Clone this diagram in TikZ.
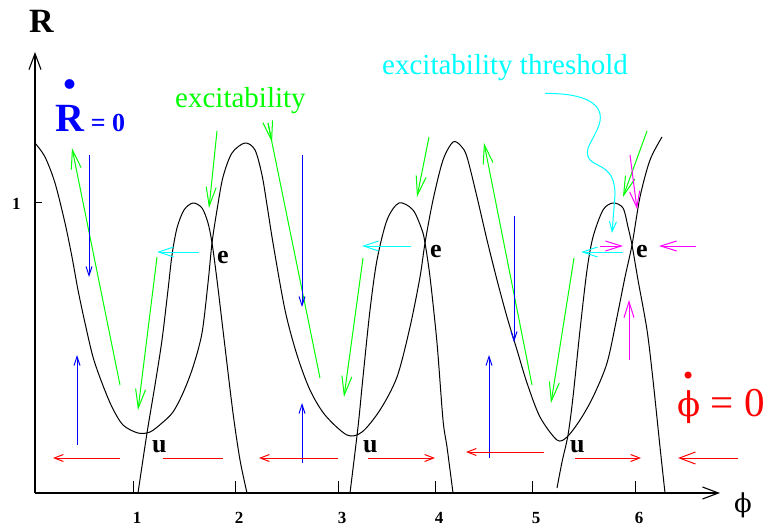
\documentclass[tikz,border=0pt]{standalone}
\usepackage{fontspec}
\setmainfont{Liberation Serif}
\newfontfamily\griego{DejaVu Serif}
\usetikzlibrary{arrows.meta}
\definecolor{verde}{RGB}{0,255,0}
\definecolor{cian}{RGB}{0,255,255}
\definecolor{magen}{RGB}{255,0,255}
\definecolor{azul}{RGB}{0,0,255}
\definecolor{rojo}{RGB}{255,0,0}

\begin{document}
\begin{tikzpicture}[
    x=1pt, y=-1pt,
    curva/.style={line width=1pt, line join=round},
    eje/.style={line width=1.1pt, -{Straight Barb[length=16pt,width=12pt]}},
    etiq/.style={inner sep=0pt, anchor=base west},
    fazul/.style={azul, line width=1pt, -{Straight Barb[length=9pt,width=6pt]}},
    fverde/.style={verde, line width=1pt, -{Straight Barb[length=19pt,width=10pt]}},
    frojo/.style={rojo, line width=1pt, -{Straight Barb[length=9pt,width=7pt]}},
    fcian/.style={cian, line width=1pt, -{Straight Barb[length=15pt,width=10pt]}},
    fmagenta/.style={magen, line width=1pt, -{Straight Barb[length=16pt,width=10pt]}}
]
\useasboundingbox (0,0) rectangle (770,529);

% ejes
\draw[eje] (35,493) -- (720,493);
\draw[eje] (35,493) -- (35,52);
\draw[line width=1pt] (35,203) -- (42,203);
\node[etiq, font=\fontsize{17}{17}\selectfont\bfseries] (uno) at (12,210) {1};
\foreach \x/\n in {133/1,235/2,338/3,435/4,532/5,635/6}{
    \draw[line width=1pt] (\x,493) -- (\x,481);
    \node[font=\fontsize{17}{17}\selectfont\bfseries] (t\n) at (\x+4,518) {\n};
}
\node[etiq, font=\fontsize{34}{34}\selectfont\bfseries] (ejeR) at (29,33) {R};
\node[font=\fontsize{26}{26}\selectfont\griego] (ejephi) at (743,505) {ϕ};

% nulclinas
\draw[curva] plot[smooth, tension=0.5] coordinates {
    (35,143) (45,157) (55,183) (65,223) (72,257) (78,290) (85,323) (93,357)
    (102,383) (112,407) (123,425) (138,433) (150,432) (162,423) (173,412)
    (183,393) (193,367) (202,333) (208,283) (212,243) (217,210) (223,177)
    (232,153) (245,143) (255,150) (262,175) (267,205) (273,243) (285,310)
    (297,355) (310,390) (325,415) (347,435) (362,432) (380,410) (397,377)
    (410,327) (420,277) (425,243) (433,200) (443,160) (453,142) (461,146)
    (467,157) (477,197) (487,240) (497,280) (507,317) (517,350) (527,383)
    (540,417) (557,440) (567,437) (580,420) (593,397) (607,363) (617,317)
    (625,277) (632,245) (640,197) (650,160) (662,137)};
\draw[curva] plot[smooth, tension=0.5] coordinates {
    (138,493) (147,433) (155,385) (162,340) (168,290) (172,255) (177,228)
    (184,210) (193,203) (202,208) (208,223) (212,243) (217,280) (225,347)
    (233,413) (240,460) (247,493)};
\draw[curva] plot[smooth, tension=0.5] coordinates {
    (350,493) (358,427) (363,377) (370,310) (377,260) (387,220) (399,203)
    (413,210) (422,230) (425,243) (430,277) (437,343) (443,420) (447,447)
    (453,493)};
\draw[curva] plot[smooth, tension=0.5] coordinates {
    (557,488) (562,462) (568,435) (573,397) (580,330) (587,270) (593,237)
    (603,210) (613,203) (623,208) (628,227) (632,245) (638,280) (647,330)
    (653,380) (660,447) (665,493)};

% puntos fijos
\node[etiq, font=\fontsize{26}{26}\selectfont\bfseries] (e1) at (217,263) {e};
\node[etiq, font=\fontsize{26}{26}\selectfont\bfseries] (e2) at (430,258) {e};
\node[etiq, font=\fontsize{26}{26}\selectfont\bfseries] (e3) at (636,258) {e};
\node[etiq, font=\fontsize{26}{26}\selectfont\bfseries] (u1) at (152,452) {u};
\node[etiq, font=\fontsize{26}{26}\selectfont\bfseries] (u2) at (363,452) {u};
\node[etiq, font=\fontsize{26}{26}\selectfont\bfseries] (u3) at (570,452) {u};

% textos
\node[etiq, azul, font=\fontsize{40}{40}\selectfont\bfseries] (Rpunto) at (55,132)
    {\rlap{\hspace{7.5pt}\raisebox{43pt}{\fontsize{60}{60}\selectfont .}}R\,{\fontsize{26}{26}\selectfont = 0}};
\node[etiq, rojo, font=\fontsize{41}{41}\selectfont] (phipunto) at (677,416)
    {\rlap{\hspace{4pt}\raisebox{32pt}{\fontsize{24}{24}\selectfont\griego •}}{\fontsize{34}{34}\selectfont\griego ϕ}\hspace{10pt}=\hspace{11pt}0};
\node[etiq, verde, font=\fontsize{29}{29}\selectfont] (excit) at (175,108) {excitability};
\node[etiq, cian, font=\fontsize{29}{29}\selectfont] (umbral) at (382,75) {excitability threshold};
\coordinate (umbralfin) at (612,233);
\draw[cian, line width=1pt, -{Straight Barb[length=10pt,width=7pt]}]
    ([xshift=40pt,yshift=-12pt]umbral.south) .. controls (585,93) and (606,104) .. (599,125)
    .. controls (594,140) and (582,150) .. (590,160)
    .. controls (598,168) and (615,166) .. (615,195) -- (umbralfin);

% flechas verdes
\draw[fverde] (120,385) -- (72,148);
\draw[fverde] (157,257) -- (138,410);
\draw[fverde] (217,131) -- (209,208);
\draw[verde, line width=1pt] (268,123) -- (320,378);
\draw[fverde] (268,123) -- (272,142);
\draw[fverde] (363,258) -- (344,397);
\draw[fverde] (429,137) -- (417,197);
\draw[fverde] (532,385) -- (484,143);
\draw[fverde] (574,258) -- (551,403);
\draw[fverde] (647,131) -- (623,197);

% flechas azules
\draw[fazul] (89,155) -- (89,277);
\draw[fazul] (77,445) -- (77,355);
\draw[fazul] (302,155) -- (302,307);
\draw[fazul] (302,463) -- (302,403);
\draw[fazul] (514,216) -- (514,342);
\draw[fazul] (489,458) -- (489,355);

% flechas cian y magenta
\draw[fcian] (199,252) -- (157,252);
\draw[fcian] (411,246) -- (362,246);
\draw[fcian] (623,252) -- (581,252);
\draw[fmagenta] (629,360) -- (629,300);
\draw[fmagenta] (630,155) -- (637,209);
\draw[fmagenta] (600,246) -- (623,246);
\draw[fmagenta] (696,246) -- (659,246);

% flechas rojas
\draw[frojo] (120,458) -- (53,458);
\draw[rojo, line width=1pt] (163,458) -- (223,458);
\draw[frojo] (338,458) -- (259,458);
\draw[frojo] (368,458) -- (435,458);
\draw[frojo] (544,452) -- (466,452);
\draw[frojo] (575,458) -- (641,458);
\draw[rojo, line width=1pt, -{Straight Barb[length=16pt,width=12pt]}] (738,458) -- (678,458);

\end{tikzpicture}
\end{document}
